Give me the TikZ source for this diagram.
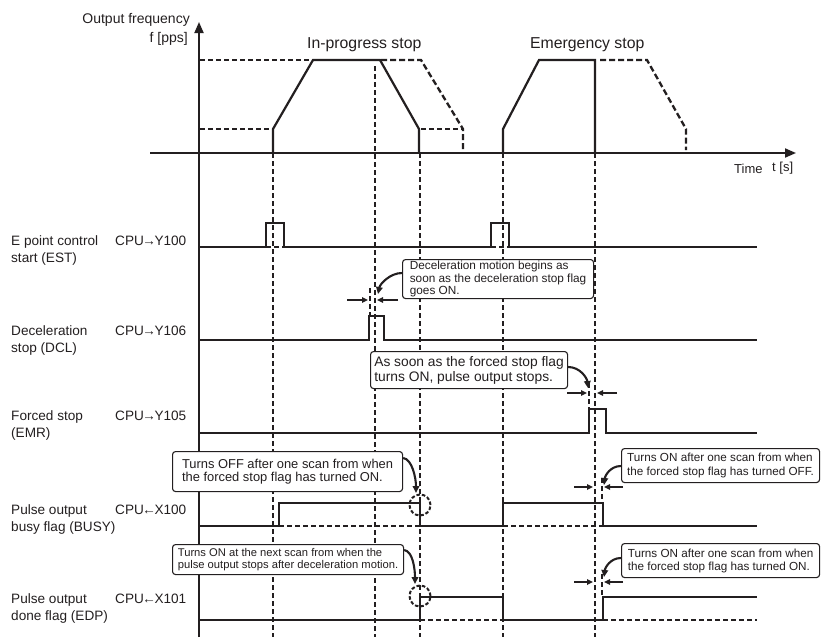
\documentclass[tikz,border=0pt]{standalone}
\usepackage{fontspec}
\setmainfont{Liberation Sans}
\usetikzlibrary{arrows.meta,calc}
\definecolor{ink}{HTML}{231F20}
\newcommand{\toarr}{\kern-1.5pt→\kern-1.5pt}
\newcommand{\fromarr}{\kern-1.5pt←\kern-1.5pt}
\begin{document}
\begin{tikzpicture}[x=1pt,y=-1pt,
  axisline/.style={line width=1.8pt,draw=ink},
  sigline/.style={line width=2.2pt,draw=ink,line join=miter},
  guide/.style={line width=1.1pt,draw=ink,dash pattern=on 5pt off 3pt},
  guidem/.style={line width=1.3pt,draw=ink,dash pattern=on 5pt off 3pt},
  ghost/.style={line width=2.3pt,draw=ink,dash pattern=on 6pt off 3pt},
  ring/.style={line width=2pt,draw=ink,dash pattern=on 3.5pt off 2pt},
  gaparrow/.style={line width=1.6pt,draw=ink,-{Triangle[length=6pt,width=5.5pt]}},
  pointer/.style={line width=2.1pt,draw=ink,-{Triangle[length=7pt,width=6.5pt]}},
  lbl/.style={inner sep=0pt,anchor=base west,text=ink,font=\fontsize{13.6}{16}\selectfont},
  note/.style={draw=ink,line width=1.1pt,rounded corners=3pt,fill=white,align=left,
    inner sep=0pt,text=ink,anchor=north west},
]
\useasboundingbox (0,0) rectangle (821,637);

% ---------------- axes
\draw[axisline,-{Triangle[length=11pt,width=9pt]}] (199,637) -- (199,22);
\draw[axisline,-{Triangle[length=11pt,width=9pt]}] (150,153) -- (796,153);

\node[inner sep=0pt,anchor=base east,text=ink,font=\fontsize{14}{16}\selectfont] (ylab1) at (190,23) {Output frequency};
\node[inner sep=0pt,anchor=base east,text=ink,font=\fontsize{14}{16}\selectfont] (ylab2) at (188,42) {f [pps]};
\node[inner sep=0pt,anchor=base west,text=ink,font=\fontsize{15.8}{18}\selectfont] (ttl1) at (307,48) {In-progress stop};
\node[inner sep=0pt,anchor=base west,text=ink,font=\fontsize{15.8}{18}\selectfont] (ttl2) at (530,48) {Emergency stop};
\node[inner sep=0pt,anchor=base west,text=ink,font=\fontsize{13}{15}\selectfont] (xlab1) at (734,173) {Time};
\node[inner sep=0pt,anchor=base west,text=ink,font=\fontsize{13}{15}\selectfont] (xlab2) at (772,171) {t [s]};

% ---------------- frequency profile
\draw[guide] (200,60) -- (313,60);
\draw[guide] (200,129) -- (273,129);
\draw[sigline] (273,153) -- (273,129) -- (313,60) -- (380,60) -- (419,129) -- (419,153);
\draw[ghost] (381,60) -- (421,60) -- (463,129) -- (463,150);
\draw[guidem] (421,129) -- (463,129);
\draw[sigline] (503,153) -- (503,129) -- (539,60) -- (595,60) -- (595,153);
\draw[ghost] (600,60) -- (647,60) -- (686,129) -- (686,150);

% ---------------- vertical guides
\draw[guide] (273,153) -- (273,637);
\draw[guide] (375,66) -- (375,637);
\draw[guide] (420,153) -- (420,637);
\draw[guide] (503,153) -- (503,637);
\draw[guide] (595,153) -- (595,637);
\draw[guide] (370,288) -- (370,316);
\draw[guide] (589,383) -- (589,409);
\draw[guide] (602,478) -- (602,503);
\draw[guide] (602,574) -- (602,597);

% ---------------- signal labels
\node[lbl] (l1a) at (11,245) {E point control};
\node[lbl] (l1b) at (11,262) {start (EST)};
\node[lbl] (l1c) at (115,245) {CPU\toarr Y100};
\node[lbl] (l2a) at (11,335) {Deceleration};
\node[lbl] (l2b) at (11,352) {stop (DCL)};
\node[lbl] (l2c) at (115,335) {CPU\toarr Y106};
\node[lbl] (l3a) at (11,420) {Forced stop};
\node[lbl] (l3b) at (11,437) {(EMR)};
\node[lbl] (l3c) at (115,420) {CPU\toarr Y105};
\node[lbl] (l4a) at (11,514) {Pulse output};
\node[lbl] (l4b) at (11,531) {busy flag (BUSY)};
\node[lbl] (l4c) at (115,514) {CPU\fromarr X100};
\node[lbl] (l5a) at (11,603) {Pulse output};
\node[lbl] (l5b) at (11,620) {done flag (EDP)};
\node[lbl] (l5c) at (115,603) {CPU\fromarr X101};

% ---------------- signals
% EST
\draw[sigline] (199,247) -- (266,247) -- (266,223) -- (284,223) -- (284,247) -- (491,247)
  -- (491,223) -- (509,223) -- (509,247) -- (757,247);
\draw[guide] (266,247) -- (284,247);
\draw[guide] (491,247) -- (509,247);
% DCL
\draw[sigline] (199,340) -- (369,340) -- (369,316) -- (384,316) -- (384,340) -- (757,340);
% EMR
\draw[sigline] (199,433) -- (589,433) -- (589,409) -- (606,409) -- (606,433) -- (757,433);
% BUSY
\draw[guide] (279,526) -- (420,526);
\draw[guide] (503,526) -- (603,526);
\draw[sigline] (199,526) -- (279,526) -- (279,503) -- (420,503) -- (420,526) -- (503,526)
  -- (503,503) -- (603,503) -- (603,526) -- (757,526);
% EDP
\draw[guide] (420,620) -- (503,620);
\draw[guide] (603,620) -- (757,620);
\draw[sigline] (199,620) -- (420,620) -- (420,597) -- (503,597) -- (503,620) -- (603,620)
  -- (603,597) -- (757,597);

% ---------------- timing gap arrows
\draw[gaparrow] (347,300) -- (368,300);
\draw[gaparrow] (398,300) -- (377,300);
\draw[gaparrow] (567,393) -- (587,393);
\draw[gaparrow] (617,393) -- (597,393);
\draw[gaparrow] (574,487) -- (593,487);
\draw[gaparrow] (623,487) -- (604,487);
\draw[gaparrow] (574,582) -- (593,582);
\draw[gaparrow] (623,582) -- (604,582);

% ---------------- dashed rings
\draw[ring] (420,505) circle[radius=10.5pt];
\draw[ring] (420,596) circle[radius=10.5pt];

% ---------------- notes
\node[note,minimum width=191pt,minimum height=39pt,font=\fontsize{11.8}{12.5}\selectfont] (b1) at (402,259)
  {Deceleration motion begins as\\soon as the deceleration stop flag\\goes ON.};
\node[note,minimum width=197pt,minimum height=37pt,font=\fontsize{13.8}{15}\selectfont] (b2) at (370,351)
  {As soon as the forced stop flag\\turns ON, pulse output stops.};
\node[note,minimum width=198pt,minimum height=34pt,font=\fontsize{11.7}{14}\selectfont] (b3) at (621,448)
  {Turns ON after one scan from when\\the forced stop flag has turned OFF.};
\node[note,minimum width=230pt,minimum height=40pt,font=\fontsize{12.9}{13.5}\selectfont] (b4) at (172,451)
  {Turns OFF after one scan from when\\the forced stop flag has turned ON.};
\node[note,minimum width=231pt,minimum height=30pt,font=\fontsize{11.2}{12}\selectfont] (b5) at (172,544)
  {Turns ON at the next scan from when the\\pulse output stops after deceleration motion.};
\node[note,minimum width=198pt,minimum height=34pt,font=\fontsize{11.7}{13}\selectfont] (b6) at (621,543)
  {Turns ON after one scan from when\\the forced stop flag has turned ON.};

% ---------------- curved pointers
\coordinate (p1) at (378,294);
\coordinate (p2) at (588,388);
\coordinate (p3) at (604,485);
\coordinate (p4) at (416,493);
\coordinate (p5) at (415,584);
\coordinate (p6) at (604,577);
\draw[pointer] ($(b1.north west)+(0,14)$) .. controls +(-12,0) and +(2,-10) .. (p1);
\draw[pointer] ($(b2.north east)+(0,16)$) .. controls +(12,0) and +(-1,-10) .. (p2);
\draw[pointer] ($(b3.north west)+(0,18)$) .. controls +(-11,0) and +(1,-9) .. (p3);
\draw[pointer] ($(b4.north east)+(0,7)$) .. controls +(9,1) and +(0,-15) .. (p4);
\draw[pointer] ($(b5.north east)+(0,6)$) .. controls +(9,1) and +(0,-14) .. (p5);
\draw[pointer] ($(b6.north west)+(0,15)$) .. controls +(-11,0) and +(1,-9) .. (p6);
\end{tikzpicture}
\end{document}
